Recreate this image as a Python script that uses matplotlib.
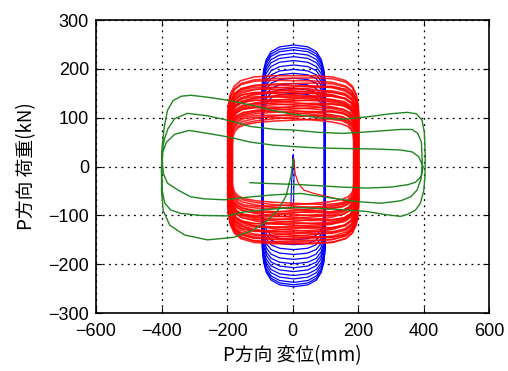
import numpy as np
import matplotlib
matplotlib.use('Agg')
import matplotlib.pyplot as plt

plt.rcParams['font.family'] = ['Liberation Sans', 'Noto Sans CJK JP']

# blue cycles: side positions (mm) and peak loads (kN)
blue_left = [-90, -91, -91, -92, -92, -92, -92, -93, -93, -93, -93, -93, -93]
blue_right = [96, 97, 97, 98, 98, 99, 99, 99, 100, 100, 100, 100, 100]
blue_top = [150, 160, 170, 181, 191, 199, 208, 217, 225, 232, 239, 244, 249]
blue_bot = [-150, -160, -170, -180, -190, -199, -207, -215, -223, -230, -237, -242, -246]
blue_start_x = [0, 2, 1, -3, -5, -4, 3, 5, 2]
blue_start_y = [0, 25, 5, -30, -75, -80, -75, 10, 20]

# red cycles
red_left = [-183, -185, -186, -187, -188, -189, -190, -190, -191, -191, -192, -192, -193, -193, -193, -194,
            -194, -194, -195, -195, -195, -196, -196, -196, -196, -197, -197, -197, -197, -197, -198, -198]
red_right = [186, 188, 189, 190, 191, 192, 193, 193, 194, 194, 195, 195, 196, 196, 197, 197,
             197, 198, 198, 198, 199, 199, 199, 200, 200, 200, 200, 201, 201, 201, 202, 202]
red_top = [95, 98, 101, 104, 107, 110, 112, 115, 118, 120, 123, 126, 128, 131, 134, 136,
           139, 141, 144, 146, 148, 151, 153, 155, 158, 160, 163, 166, 170, 176, 181, 186]
red_bot = [-75, -78, -81, -84, -87, -90, -93, -95, -98, -101, -104, -106, -109, -112, -114, -117,
           -120, -122, -125, -127, -130, -132, -135, -137, -140, -142, -144, -147, -150, -153, -156, -158]
red_tilt = [6, -8, 10, -4, 12, -10, 3, -12, 8, -6, 11, -9, 5, -11, 9, -3,
            12, -7, 4, -12, 10, -5, 7, -10, 12, -8, 6, -4, 3, -2, 2, 0]
red_start_x = [0, 3, 8, 18, 34, 65, 110, 160, 186]
red_start_y = [0, 18, -15, -35, -48, -55, -62, -70, -75]

# green response (one continuous trace)
green_x = [0, 2, -5, -20, -45, -80, -120, -180, -260, -330, -375, -395, -400, -400, -398, -392, -382,
           -365, -340, -310, -260, -199, -128, -60, -7, 80, 155, 230, 297, 350, 378, 395, 402, 405,
           404, 400, 390, 375, 350, 329, 280, 227, 150, 60, 0, -80, -150, -199, -280, -340, -372,
           -390, -398, -400, -398, -392, -380, -360, -321, -260, -199, -128, -50, 0, 80, 155, 250,
           329, 365, 382, 393, 396, 392, 380, 360, 330, 270, 200, 126, 24, -60, -128, -209, -270,
           -311, -350, -382, -394, -398, -396, -385, -360, -316, -260, -199, -128, -60, 0, 80, 155,
           250, 329, 365, 385, 398, 393, 375, 352, 300, 227, 150, 24, -60, -130]
green_y = [0, 15, -20, -60, -90, -112, -130, -145, -150, -140, -120, -90, -50, 0, 40, 80, 115,
           135, 144, 146, 142, 136, 126, 115, 108, 100, 97, 102, 108, 111, 108, 95, 70, 20,
           -20, -50, -75, -89, -98, -102, -98, -92, -88, -85, -84, -88, -93, -101, -100, -96, -89,
           -75, -50, -10, 30, 55, 78, 98, 109, 104, 95, 82, 76, 75, 70, 68, 72,
           76, 76, 68, 50, 6, -25, -48, -62, -70, -75, -72, -65, -55, -58, -62, -68, -66,
           -62, -48, -34, -15, 10, 30, 50, 66, 74, 68, 61, 50, 44, 41, 38, 37,
           36, 34, 30, 20, 0, -20, -32, -37, -42, -44, -42, -37, -35, -33]

# rounded cap outlines (normalised)
blue_cap_x = np.array([-1, -0.99, -0.95, -0.87, -0.72, -0.45, 0, 0.45, 0.72, 0.87, 0.95, 0.99, 1])
blue_cap_y = np.array([0, 0.25, 0.5, 0.7, 0.86, 0.96, 1, 0.96, 0.86, 0.7, 0.5, 0.25, 0])
red_cap_x = np.array([-1, -0.99, -0.96, -0.9, -0.8, -0.6, -0.3, 0, 0.3, 0.6, 0.8, 0.9, 0.96, 0.99, 1])
red_cap_y = np.array([0, 0.3, 0.55, 0.75, 0.88, 0.97, 1, 1, 1, 0.97, 0.88, 0.75, 0.55, 0.3, 0])


def loop(xl, xr, top, bot, cx, cy, ht, hb, tilt=0):
    xc = (xl + xr) / 2
    a = (xr - xl) / 2
    ux = xc + a * cx
    uy = top - ht + ht * cy + tilt * cx * cy
    lx = xc + a * cx[::-1]
    ly = bot + hb - hb * cy[::-1] - tilt * cx[::-1] * cy[::-1]
    x = np.concatenate([ux, lx, ux[:1]])
    y = np.concatenate([uy, ly, uy[:1]])
    return x, y


fig = plt.figure(figsize=(5.08, 3.71), dpi=100)
ax = fig.add_axes([0.189, 0.156, 0.774, 0.790])

ax.plot(blue_start_x, blue_start_y, color='blue', lw=0.8)
for xl, xr, t, b in zip(blue_left, blue_right, blue_top, blue_bot):
    x, y = loop(xl, xr, t, b, blue_cap_x, blue_cap_y, 0.4 * t, 0.4 * -b)
    ax.plot(x, y, color='blue', lw=0.9)

ax.plot(red_start_x, red_start_y, color='red', lw=0.8)
for xl, xr, t, b, tl in zip(red_left, red_right, red_top, red_bot, red_tilt):
    x, y = loop(xl, xr, t, b, red_cap_x, red_cap_y, 0.45 * t, 0.55 * -b, tl)
    ax.plot(x, y, color='red', lw=1.15, alpha=0.85)

ax.plot(green_x, green_y, color=(0.13, 0.52, 0.13), lw=1.0)

ax.set_xlim(-600, 600)
ax.set_ylim(-300, 300)
ax.set_xticks(np.arange(-600, 601, 200))
ax.set_yticks(np.arange(-300, 301, 100))
ax.grid(True, color='black', linestyle=(0, (1.5, 3.5)), lw=0.9)
ax.set_axisbelow(True)
ax.tick_params(direction='in', top=True, right=True, length=4, labelsize=13)
ax.tick_params(axis='x', pad=7)
ax.tick_params(axis='y', pad=5)
for s in ax.spines.values():
    s.set_linewidth(1.2)

ax.set_xlabel('P方向 変位(mm)', fontsize=13.5, family=['Noto Sans CJK JP'], labelpad=4)
ax.set_ylabel('P方向 荷重(kN)', fontsize=13.5, family=['Noto Sans CJK JP'], labelpad=8)

fig.savefig('out.png', dpi=100)
